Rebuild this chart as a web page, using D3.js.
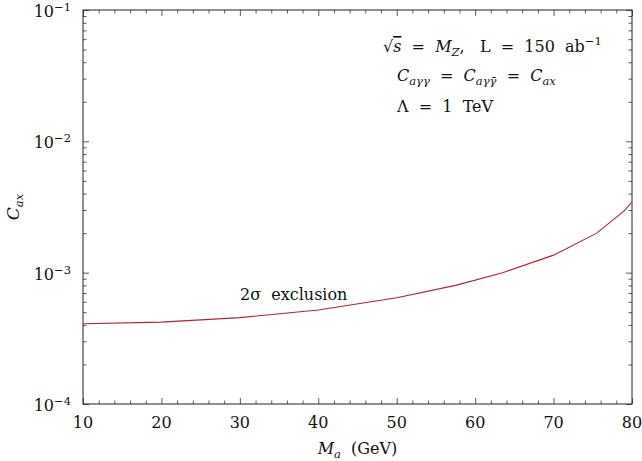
<!DOCTYPE html>
<html>
<head>
<meta charset="utf-8">
<script src="https://cdn.jsdelivr.net/npm/d3@7"></script>
<style>
  body { margin: 0; background: #fff; }
  svg { display: block; }
  svg text { font-family: "DejaVu Serif", "Liberation Serif", serif; fill: #111; }
</style>
</head>
<body>
<svg id="chart" width="642" height="461"></svg>
<script>
// ---- data ----
const massValues = [10, 20, 30, 40, 50, 57.5, 63.5, 70, 75.5, 79, 80];
const caxValues  = [4.08e-4, 4.2e-4, 4.55e-4, 5.2e-4, 6.45e-4, 8.0e-4, 1.0e-3, 1.36e-3, 2.0e-3, 2.95e-3, 3.45e-3];
const xTickValues = [10, 20, 30, 40, 50, 60, 70, 80];
const yTickExponents = [-4, -3, -2, -1];
const curveLabel = "2σ  exclusion";

const svg = d3.select("#chart");
const W = 642, H = 461;
const m = { left: 83, right: 10, top: 10, bottom: 57 };
const x = d3.scaleLinear().domain([10, 80]).range([m.left, W - m.right]);
const y = d3.scaleLog().domain([1e-4, 1e-1]).range([H - m.bottom, m.top]);

svg.append("defs").append("clipPath").attr("id", "clip")
  .append("rect").attr("x", x(10)).attr("y", y(1e-1))
  .attr("width", x(80) - x(10)).attr("height", y(1e-4) - y(1e-1));

const xMinor = d3.range(10, 80.01, 2).filter(v => v % 10 !== 0);
const yMinor = [];
[-4, -3, -2].forEach(e => { for (let k = 2; k <= 9; k++) yMinor.push(k * Math.pow(10, e)); });

const axisStyle = g => {
  g.select(".domain").remove();
  g.selectAll("line").attr("stroke", "#333").attr("stroke-width", 0.8);
  g.selectAll("text").remove();
};
const MAJ = 6, MIN = 3.5;
svg.append("g").attr("transform", `translate(0,${y(1e-4)})`)
  .call(d3.axisBottom(x).tickValues(xTickValues).tickSize(-MAJ)).call(axisStyle);
svg.append("g").attr("transform", `translate(0,${y(1e-4)})`)
  .call(d3.axisBottom(x).tickValues(xMinor).tickSize(-MIN)).call(axisStyle);
svg.append("g").attr("transform", `translate(0,${y(1e-1)})`)
  .call(d3.axisTop(x).tickValues(xTickValues).tickSize(-MAJ)).call(axisStyle);
svg.append("g").attr("transform", `translate(0,${y(1e-1)})`)
  .call(d3.axisTop(x).tickValues(xMinor).tickSize(-MIN)).call(axisStyle);
const yMajorVals = yTickExponents.map(e => Math.pow(10, e));
svg.append("g").attr("transform", `translate(${x(10)},0)`)
  .call(d3.axisLeft(y).tickValues(yMajorVals).tickSize(-MAJ)).call(axisStyle);
svg.append("g").attr("transform", `translate(${x(10)},0)`)
  .call(d3.axisLeft(y).tickValues(yMinor).tickSize(-MIN)).call(axisStyle);
svg.append("g").attr("transform", `translate(${x(80)},0)`)
  .call(d3.axisRight(y).tickValues(yMajorVals).tickSize(-MAJ)).call(axisStyle);
svg.append("g").attr("transform", `translate(${x(80)},0)`)
  .call(d3.axisRight(y).tickValues(yMinor).tickSize(-MIN)).call(axisStyle);

svg.append("rect").attr("x", x(10)).attr("y", y(1e-1))
  .attr("width", x(80) - x(10)).attr("height", y(1e-4) - y(1e-1))
  .attr("fill", "none").attr("stroke", "#222").attr("stroke-width", 1);

const FS = 16;
const SUB = 11.5;

svg.append("g").selectAll("text").data(xTickValues).join("text")
  .attr("x", d => x(d)).attr("y", y(1e-4) + 24)
  .attr("text-anchor", "middle").attr("font-size", FS)
  .text(d => d);

const yl = svg.append("g").selectAll("text").data(yTickExponents).join("text")
  .attr("x", x(10) - 12).attr("y", d => y(Math.pow(10, d)) + 7)
  .attr("text-anchor", "end").attr("font-size", FS);
yl.append("tspan").text("10");
yl.append("tspan").attr("dy", -6).attr("font-size", SUB).text(d => "\u2212" + Math.abs(d));

const pts = massValues.map((v, i) => [v, caxValues[i]]);
svg.append("path").datum(pts)
  .attr("clip-path", "url(#clip)")
  .attr("fill", "none").attr("stroke", "#b2262a").attr("stroke-width", 1.1)
  .attr("d", d3.line().x(d => x(d[0])).y(d => y(d[1])));

svg.append("text").attr("x", 240).attr("y", 300).attr("font-size", FS)
  .attr("xml:space", "preserve").text(curveLabel);

const xl = svg.append("text").attr("x", (x(10) + x(80)) / 2).attr("y", 454)
  .attr("text-anchor", "middle").attr("font-size", FS).attr("xml:space", "preserve");
xl.append("tspan").attr("font-style", "italic").text("M");
xl.append("tspan").attr("font-style", "italic").attr("font-size", SUB).attr("dy", 4).text("a");
xl.append("tspan").attr("dy", -4).text("  (GeV)");

const ylab = svg.append("text").attr("transform", `translate(19,${(y(1e-4)+y(1e-1))/2}) rotate(-90)`)
  .attr("text-anchor", "middle").attr("font-size", FS + 1);
ylab.append("tspan").attr("font-style", "italic").text("C");
ylab.append("tspan").attr("font-style", "italic").attr("font-size", SUB).attr("dy", 4).text("ax");

const a1 = svg.append("text").attr("x", 383).attr("y", 52).attr("font-size", FS).attr("xml:space", "preserve");
a1.append("tspan").text("\u221A");
a1.append("tspan").attr("font-style", "italic").attr("text-decoration", "overline").text("s");
a1.append("tspan").text("  =  ");
a1.append("tspan").attr("font-style", "italic").text("M");
a1.append("tspan").attr("font-style", "italic").attr("font-size", SUB).attr("dy", 4).text("Z");
a1.append("tspan").attr("dy", -4).text(",   L  =  150  ab");
a1.append("tspan").attr("dy", -7).attr("font-size", SUB).text("\u22121");

const a2 = svg.append("text").attr("x", 397).attr("y", 81).attr("font-size", FS).attr("xml:space", "preserve");
a2.append("tspan").attr("font-style", "italic").text("C");
a2.append("tspan").attr("font-style", "italic").attr("font-size", SUB).attr("dy", 4).text("aγγ");
a2.append("tspan").attr("dy", -4).text("  =  ");
a2.append("tspan").attr("font-style", "italic").text("C");
a2.append("tspan").attr("font-style", "italic").attr("font-size", SUB).attr("dy", 4).text("aγγ\u0304");
a2.append("tspan").attr("dy", -4).text("  =  ");
a2.append("tspan").attr("font-style", "italic").text("C");
a2.append("tspan").attr("font-style", "italic").attr("font-size", SUB).attr("dy", 4).text("ax");

const a3 = svg.append("text").attr("x", 397).attr("y", 112).attr("font-size", FS).attr("xml:space", "preserve");
a3.append("tspan").text("Λ  =  1  TeV");
</script>
</body>
</html>
